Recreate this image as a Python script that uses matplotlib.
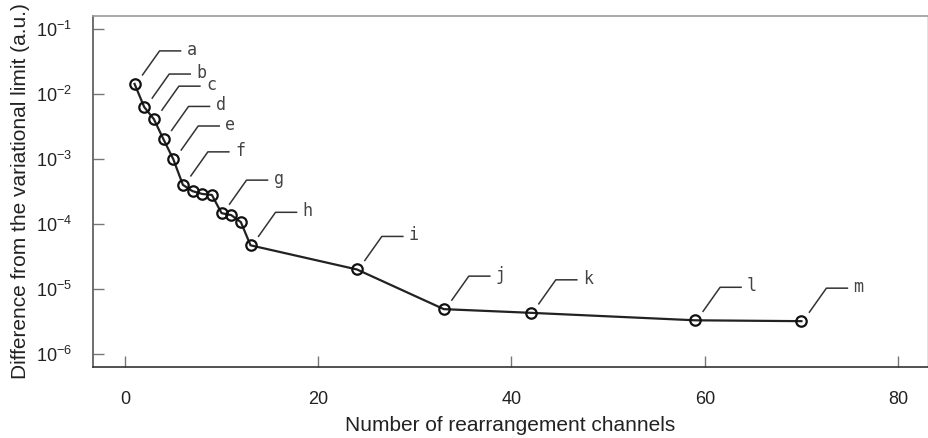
import matplotlib
matplotlib.use("Agg")
import matplotlib.pyplot as plt
from matplotlib.transforms import IdentityTransform
from matplotlib.lines import Line2D

plt.rcParams['font.family'] = ['Liberation Sans', 'DejaVu Sans']

channels = [1, 2, 3, 4, 5, 6, 7, 8, 9, 10, 11, 12, 13, 24, 33, 42, 59, 70]
difference = [1.43e-2, 6.3e-3, 4.1e-3, 2.0e-3, 1.0e-3, 4.0e-4, 3.2e-4, 2.9e-4,
              2.8e-4, 1.47e-4, 1.37e-4, 1.07e-4, 4.7e-5, 2.0e-5, 4.9e-6,
              4.3e-6, 3.3e-6, 3.2e-6]
label_letters = ['a', 'b', 'c', 'd', 'e', 'f', 'g', 'h', 'i', 'j', 'k', 'l', 'm']
label_channels = [1, 2, 3, 4, 5, 6, 10, 13, 24, 33, 42, 59, 70]
x_ticks = [0, 20, 40, 60, 80]
y_ticks = [1e-6, 1e-5, 1e-4, 1e-3, 1e-2, 1e-1]

W, H = 929, 438
fig = plt.figure(figsize=(W / 100, H / 100), dpi=100)
ax = fig.add_axes([93 / W, (H - 367) / H, 835 / W, 351 / H])

ax.plot(channels, difference, color='#222222', lw=1.6, marker='o', ms=7.5,
        mfc='none', mec='#111111', mew=1.6, zorder=3)

ax.set_yscale('log')
ax.set_xlim(-3.3, 83.1)
ax.set_ylim(10 ** -6.2, 10 ** -0.8)
ax.set_xticks(x_ticks)
ax.set_yticks(y_ticks)
ax.minorticks_off()
ax.tick_params(direction='in', length=8, width=1, color='#777777',
               labelsize=13, labelcolor='#222222')
ax.tick_params(axis='x', pad=17)
ax.tick_params(axis='y', pad=15)

ax.spines['top'].set_color('#999999')
ax.spines['right'].set_color('#dddddd')
ax.spines['left'].set_color('#555555')
ax.spines['bottom'].set_color('#333333')
for s in ax.spines.values():
    s.set_linewidth(1.2)

ax.set_xlabel('Number of rearrangement channels', fontsize=15, color='#222222', labelpad=6)
ax.set_ylabel('Difference from the variational limit (a.u.)', fontsize=15,
              color='#222222', labelpad=4)

# leader lines with letter labels (offsets in pixels)
y_of = dict(zip(channels, difference))
for letter, ch in zip(label_letters, label_channels):
    px, py = ax.transData.transform((ch, y_of[ch]))
    x0, y0 = px + 8, py + 9
    x1, y1 = x0 + 17, y0 + 24
    x2 = x1 + 21
    fig.add_artist(Line2D([x0, x1, x2], [y0, y1, y1], transform=IdentityTransform(),
                          color='#333333', lw=1.1))
    fig.text(x2 + 6, y1 + 1, letter, transform=IdentityTransform(), ha='left', va='center',
             fontsize=12, family='DejaVu Sans Mono', color='#444444')

fig.savefig('out.png', dpi=100)
